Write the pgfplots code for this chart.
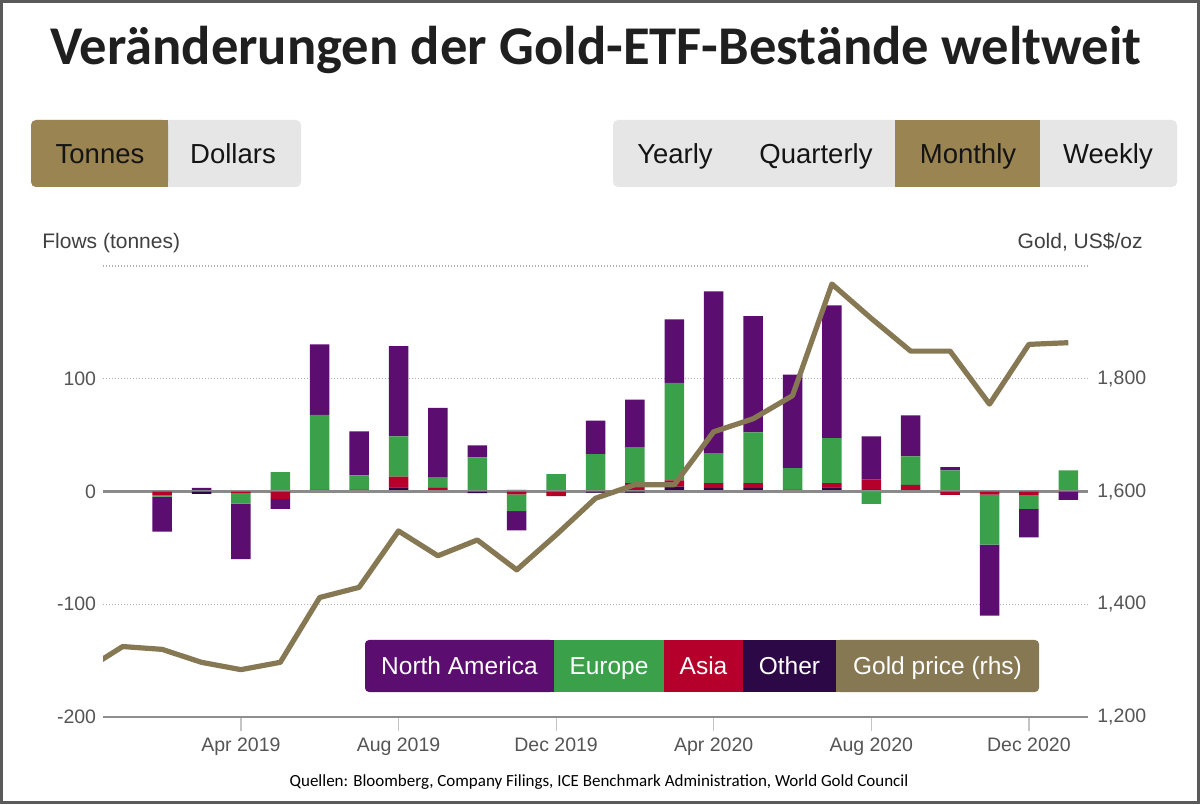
\documentclass[border=0pt]{standalone}
\usepackage{fontspec}
\setmainfont{Liberation Sans}
\newfontfamily\carlito{Carlito}
\usepackage{pgfplots}
\usepackage{pgfplotstable}
\pgfplotsset{compat=1.18}

\definecolor{naPurple}{HTML}{5C0D70}
\definecolor{euGreen}{HTML}{3AA04A}
\definecolor{asRed}{HTML}{B4002A}
\definecolor{otDark}{HTML}{2D0846}
\definecolor{goldLine}{HTML}{857852}
\definecolor{btnGold}{HTML}{9A8452}
\definecolor{btnGray}{HTML}{E6E6E6}
\definecolor{labelGray}{HTML}{555555}
\definecolor{gridGray}{HTML}{B0B0B0}
\definecolor{axisGray}{HTML}{8E8E8E}
\definecolor{tickGray}{HTML}{C4C4C4}
\definecolor{zeroGray}{HTML}{8A8A8A}
\definecolor{frameGray}{HTML}{5A5A5A}

% monthly ETF flows in tonnes, Jan 2019 (0) to Jan 2021 (24)
\pgfplotstableread{
x   na     eu     as     ot
0   0      0      0      0
1   -31    -1.5   -3     0
2   3.3    0      0      -2
3   -49.2  -9.5   -1.2   0
4   -9     17.2   -6.5   0
5   62.5   66.4   1.5    0
6   39.1   12.7   0      1.5
7   80     35.6   9.7    3.6
8   61.7   8.8    2.6    1
9   10.7   30.2   0      -1.5
10  -17    -15    -2.5   1.5
11  0      15.4   -4     0
12  29.6   33.2   0      -1
13  42.1   32     7.4    -1
14  56.3   86.5   5.4    4.4
15  144    26.1   4.4    3
16  103.2  45     4.4    3
17  83     19.2   0      1.5
18  117.6  40     3.8    3.6
19  38.4   -11    9      1.5
20  36.5   25.2   5.9    0
21  2.9    18.7   -3     0
22  -62.9  -44.4  -2.7   0
23  -25.2  -12.4  -3     0
24  -7.5   17.5   0      1.2
}\flows

% month-end gold price, US$/oz, Dec 2018 (-1) to Jan 2021 (24)
\pgfplotstableread{
x   gold
-1  1281
0   1325
1   1320
2   1297
3   1284
4   1297
5   1412
6   1430
7   1530
8   1486
9   1514
10  1461
11  1523
12  1588
13  1612
14  1612
15  1706
16  1729
17  1770
18  1968
19  1907
20  1849
21  1849
22  1755
23  1861
24  1864
}\goldprice

\pgfplotsset{
  chartaxis/.style={
    at={(51.5pt,43.5pt)}, anchor=south west,
    scale only axis, width=492.5pt, height=225.5pt,
    xmin=-0.5, xmax=24.5,
  },
  ticktext/.style={font=\fontsize{9.75}{11}\selectfont, text=labelGray},
}

\begin{document}
\begin{tikzpicture}
\fill[white] (0,0) rectangle (600pt,402pt);

% heading
\node[anchor=base, inner sep=0pt, text=black!88,
      font=\carlito\bfseries\fontsize{27.3}{31}\selectfont]
  at (298pt,369.5pt) {Veränderungen der Gold-ETF-Bestände weltweit};

% unit switch
\fill[btnGray, rounded corners=2.5pt] (15.5pt,308.5pt) rectangle (150.5pt,342pt);
\fill[btnGold, rounded corners=2.5pt] (15.5pt,308.5pt) rectangle (84pt,342pt);
\fill[btnGold] (60pt,308.5pt) rectangle (84pt,342pt);
% period switch
\fill[btnGray, rounded corners=2.5pt] (306.5pt,308.5pt) rectangle (588.5pt,342pt);
\fill[btnGold] (447.5pt,308.5pt) rectangle (520pt,342pt);
\begin{scope}[every node/.style={anchor=base, inner sep=0pt, text=black!92,
      font=\fontsize{13.75}{16}\selectfont}]
  \node at (50pt,320.3pt) {Tonnes};
  \node at (116.5pt,320.3pt) {Dollars};
  \node at (337.5pt,320.3pt) {Yearly};
  \node at (408pt,320.3pt) {Quarterly};
  \node at (484pt,320.3pt) {Monthly};
  \node at (554pt,320.3pt) {Weekly};
\end{scope}

% axis titles
\node[anchor=base west, inner sep=0pt, text=black!75, font=\fontsize{10.5}{12}\selectfont]
  at (21pt,277.75pt) {Flows (tonnes)};
\node[anchor=base east, inner sep=0pt, text=black!75, font=\fontsize{10.5}{12}\selectfont]
  at (571.5pt,277.75pt) {Gold, US\$/oz};

% flows: positive parts
\begin{axis}[chartaxis,
  ymin=-200, ymax=200,
  axis lines*=left,
  y axis line style={draw=none},
  x axis line style={draw=axisGray, line width=0.9pt},
  xtick={3,7,11,15,19,23},
  xticklabels={Apr 2019,Aug 2019,Dec 2019,Apr 2020,Aug 2020,Dec 2020},
  ytick={-200,-100,0,100,200},
  yticklabels={-200,-100,0,100,{}},
  ymajorgrids,
  major grid style={gridGray, line width=0.6pt, dash pattern=on 0.5pt off 1pt},
  tick align=outside,
  xtick style={draw=tickGray, line width=0.6pt, /pgfplots/major tick length=7pt},
  ytick style={draw=none, /pgfplots/major tick length=0pt},
  ticklabel style={ticktext},
  yticklabel style={inner sep=0pt, xshift=1pt},
  xticklabel style={inner sep=0pt, anchor=north, yshift=-6pt},
  ybar stacked, bar width=9.75pt,
]
\addplot[fill=otDark, draw=none] table[x=x, y expr={max(\thisrow{ot},0)}] {\flows};
\addplot[fill=asRed, draw=none] table[x=x, y expr={max(\thisrow{as},0)}] {\flows};
\addplot[fill=euGreen, draw=none] table[x=x, y expr={max(\thisrow{eu},0)}] {\flows};
\addplot[fill=naPurple, draw=none] table[x=x, y expr={max(\thisrow{na},0)}] {\flows};
\end{axis}

% flows: negative parts
\begin{axis}[chartaxis, ymin=-200, ymax=200, hide axis,
  ybar stacked, bar width=9.75pt]
\addplot[fill=otDark, draw=none] table[x=x, y expr={min(\thisrow{ot},0)}] {\flows};
\addplot[fill=asRed, draw=none] table[x=x, y expr={min(\thisrow{as},0)}] {\flows};
\addplot[fill=euGreen, draw=none] table[x=x, y expr={min(\thisrow{eu},0)}] {\flows};
\addplot[fill=naPurple, draw=none] table[x=x, y expr={min(\thisrow{na},0)}] {\flows};
\draw[zeroGray, line width=1.3pt] (axis cs:-0.5,0) -- (axis cs:24.5,0);
\end{axis}

% gold price on the right-hand scale
\begin{axis}[chartaxis,
  ymin=1200, ymax=2000,
  axis x line=none,
  axis y line*=right,
  y axis line style={draw=none},
  ytick={1200,1400,1600,1800},
  yticklabels={{1,200},{1,400},{1,600},{1,800}},
  ytick style={draw=none, /pgfplots/major tick length=0pt},
  yticklabel style={ticktext, inner sep=0pt, anchor=west, xshift=4.5pt},
]
\addplot[goldLine, line width=2.6pt, line join=round, mark=none] table[x=x, y=gold] {\goldprice};
\end{axis}

% legend
\begin{scope}[every node/.style={anchor=base, inner sep=0pt, text=white,
      font=\fontsize{12.25}{14}\selectfont}]
  \fill[naPurple, rounded corners=2pt] (182.5pt,56pt) rectangle (277pt,82pt);
  \fill[naPurple] (230pt,56pt) rectangle (277pt,82pt);
  \fill[euGreen] (277pt,56pt) rectangle (332pt,82pt);
  \fill[asRed] (332pt,56pt) rectangle (371.5pt,82pt);
  \fill[otDark] (371.5pt,56pt) rectangle (418pt,82pt);
  \fill[goldLine, rounded corners=2pt] (418pt,56pt) rectangle (519.5pt,82pt);
  \fill[goldLine] (418pt,56pt) rectangle (460pt,82pt);
  \node at (229.75pt,64.6pt) {North America};
  \node at (304.5pt,64.6pt) {Europe};
  \node at (351.75pt,64.6pt) {Asia};
  \node at (394.75pt,64.6pt) {Other};
  \node at (468.75pt,64.6pt) {Gold price (rhs)};
\end{scope}

% sources
\node[anchor=base, inner sep=0pt, font=\carlito\fontsize{8.5}{10}\selectfont]
  at (299.5pt,9pt) {Quellen: Bloomberg, Company Filings, ICE Benchmark Administration, World Gold Council};

% frame
\draw[frameGray, line width=1.5pt] (0.75pt,0.75pt) rectangle (599.25pt,401.25pt);
\end{tikzpicture}
\end{document}
